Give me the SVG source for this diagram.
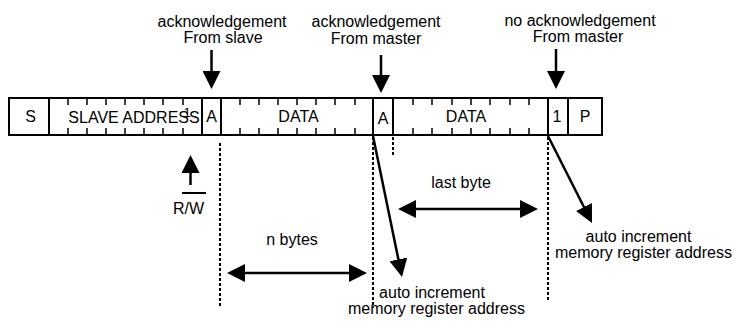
<svg xmlns="http://www.w3.org/2000/svg" width="734" height="322" viewBox="0 0 734 322">
<style>
text{font-family:"Liberation Sans",Arial,sans-serif;font-size:16px;fill:#000;text-anchor:middle}
.frame{fill:#fff;stroke:#000;stroke-width:2}
.div{stroke:#000;stroke-width:2}
.tick{stroke:#000;stroke-width:1.5}
.dot{stroke:#000;stroke-width:2;stroke-dasharray:3 2;fill:none}
.arr{stroke:#000;stroke-width:2.5;fill:none;marker-end:url(#ah)}
.darr{stroke:#000;stroke-width:2.5;fill:none;marker-start:url(#ah);marker-end:url(#ah)}
</style>
<defs>
<marker id="ah" markerUnits="userSpaceOnUse" markerWidth="18" markerHeight="18" refX="4" refY="9" orient="auto-start-reverse" viewBox="0 0 18 18">
<path d="M0,0 L18,9 L0,18 z" fill="#000"/>
</marker>
</defs>
<rect width="734" height="322" fill="#fff"/>

<g id="frame">
<rect class="frame" x="9" y="98" width="593" height="37"/>
<g class="div">
<line x1="49" y1="98" x2="49" y2="135"/>
<line x1="202" y1="98" x2="202" y2="135"/>
<line x1="221" y1="98" x2="221" y2="135"/>
<line x1="373" y1="98" x2="373" y2="135"/>
<line x1="393" y1="98" x2="393" y2="135"/>
<line x1="548" y1="98" x2="548" y2="135"/>
<line x1="568" y1="98" x2="568" y2="135"/>
</g>
<path class="tick" d="M68,98v7M68,135v-7M87,98v7M87,135v-7M106,98v7M106,135v-7M125,98v7M125,135v-7M144,98v7M144,135v-7M163,98v7M163,135v-7M183,98v7M183,135v-7
M240,98v7M240,135v-7M259,98v7M259,135v-7M278,98v7M278,135v-7M297,98v7M297,135v-7M316,98v7M316,135v-7M335,98v7M335,135v-7M355,98v7M355,135v-7
M413,98v7M413,135v-7M432,98v7M432,135v-7M452,98v7M452,135v-7M471,98v7M471,135v-7M490,98v7M490,135v-7M510,98v7M510,135v-7M529,98v7M529,135v-7"/>
<text x="187" y="117" style="font-size:13px">1</text>
<text x="30.5" y="122">S</text>
<text x="134" y="123">SLAVE ADDRESS</text>
<text x="211.5" y="122">A</text>
<text x="298.5" y="122">DATA</text>
<text x="383" y="124">A</text>
<text x="466" y="122">DATA</text>
<text x="557" y="122">1</text>
<text x="585" y="122">P</text>
</g>

<g id="label-ack-slave">
<text x="222" y="27">acknowledgement</text>
<text x="223" y="43">From slave</text>
</g>
<g id="label-ack-master">
<text x="376" y="27">acknowledgement</text>
<text x="376" y="44">From master</text>
</g>
<g id="label-noack-master">
<text x="580" y="26">no acknowledgement</text>
<text x="578" y="42">From master</text>
</g>
<g id="label-rw">
<text x="188.5" y="214">R/W</text>
<line x1="182" y1="193" x2="206" y2="193" stroke="#000" stroke-width="2"/>
</g>
<g id="label-nbytes"><text x="292" y="245">n bytes</text></g>
<g id="label-lastbyte"><text x="461" y="188">last byte</text></g>
<g id="label-autoinc-1">
<text x="432" y="298">auto increment</text>
<text x="436.5" y="314">memory register address</text>
</g>
<g id="label-autoinc-2">
<text x="638.5" y="242">auto increment</text>
<text x="643.5" y="258">memory register address</text>
</g>

<g id="connectors">
<line class="dot" x1="220" y1="143" x2="220" y2="306"/>
<line class="dot" x1="373" y1="137" x2="373" y2="308"/>
<line class="dot" x1="393" y1="137" x2="393" y2="156"/>
<line class="dot" x1="548" y1="137" x2="548" y2="300"/>
<line class="arr" x1="211.5" y1="50" x2="211.5" y2="75"/>
<line class="arr" x1="381" y1="55" x2="381" y2="79"/>
<line class="arr" x1="556" y1="49" x2="556" y2="75"/>
<line class="arr" x1="190.5" y1="185" x2="190.5" y2="169"/>
<line class="darr" x1="241" y1="273" x2="353" y2="273"/>
<line class="darr" x1="412" y1="209" x2="524" y2="209"/>
<line class="arr" x1="373" y1="136" x2="399.2" y2="263.3"/>
<line class="arr" x1="548" y1="136" x2="585.7" y2="210.5"/>
</g>
</svg>
